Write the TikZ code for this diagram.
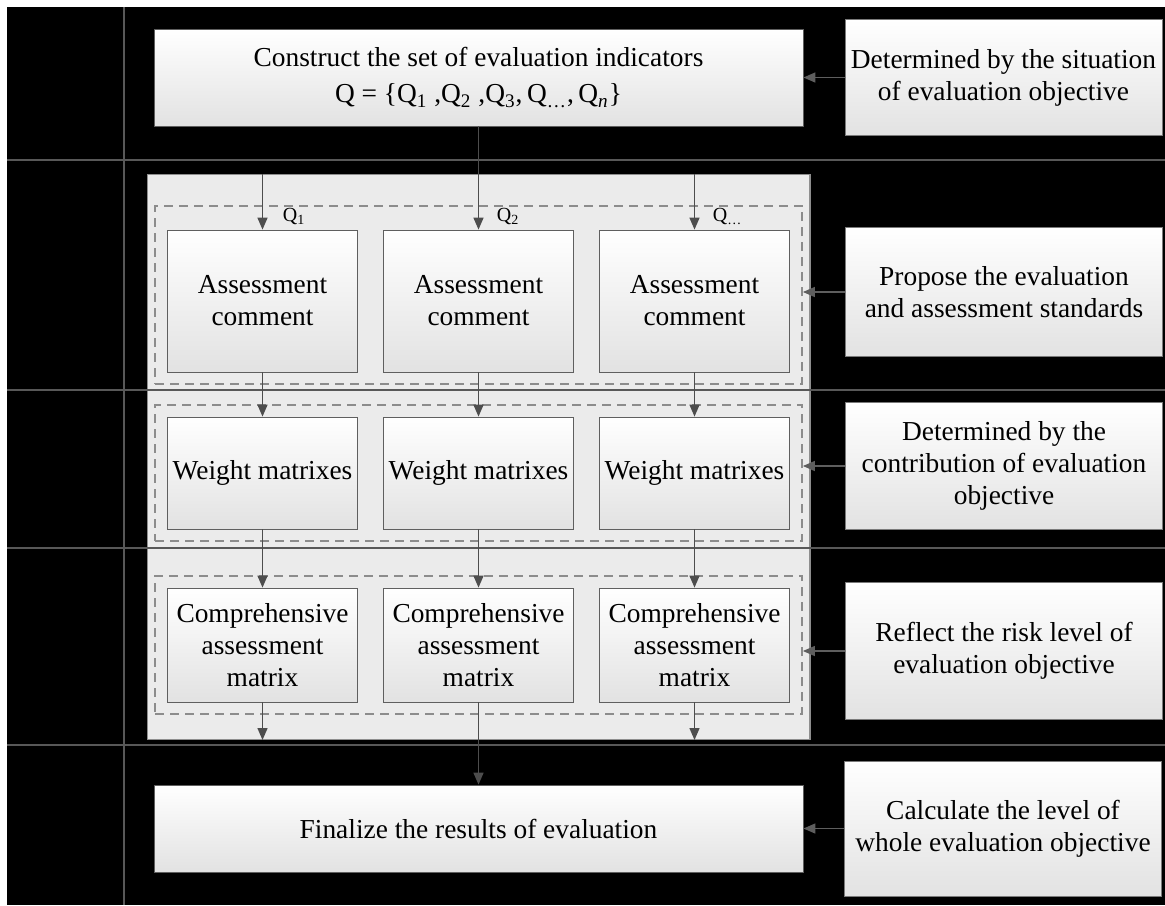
\documentclass[tikz,border=0pt]{standalone}
\usepackage{fontspec}
\setmainfont{Liberation Serif}
\usetikzlibrary{arrows.meta, fit, backgrounds}
\definecolor{boxline}{HTML}{5F5F5F}
\definecolor{sideline}{HTML}{7A7A7A}
\definecolor{boxbot}{HTML}{E2E2E2}
\definecolor{panelfill}{HTML}{EBEBEB}
\definecolor{panelline}{HTML}{8E8E8E}
\definecolor{dashgray}{HTML}{8C8C8C}
\definecolor{arrgray}{HTML}{4D4D4D}
\definecolor{sidegray}{HTML}{5E5E5E}
\definecolor{linegray}{HTML}{585858}
\newcommand{\qsub}[1]{Q\textsubscript{#1}}
\tikzstyle{topbox} = [rectangle, minimum width=324.5pt, minimum height=48.5pt, text centered, align=center, inner sep=1pt, draw=boxline, top color=white, bottom color=boxbot]
\tikzstyle{sidebox} = [rectangle, minimum width=158.5pt, minimum height=65pt, text centered, align=center, inner sep=1pt, draw=sideline, top color=white, bottom color=boxbot]
\tikzstyle{stepbox} = [rectangle, minimum width=95pt, minimum height=56pt, text centered, align=center, inner sep=1pt, draw=boxline, top color=white, bottom color=boxbot]
\tikzstyle{qlabel} = [font=\fontsize{10}{11}\selectfont, inner sep=1pt, anchor=south west]
\tikzstyle{dashgroup} = [rectangle, draw=dashgray, line width=1pt, dash pattern=on 4.5pt off 3pt, inner sep=6pt]
\tikzstyle{panelbox} = [rectangle, draw=panelline, fill=panelfill, line width=0.6pt, inner xsep=3.5pt, inner ysep=12pt]
\tikzstyle{rowline} = [line width=0.8pt, draw=linegray]
\tikzstyle{arrow} = [line width=0.7pt, draw=arrgray, ->, >={Triangle[length=6pt,width=5pt]}]
\tikzstyle{sidearrow} = [arrow, draw=sidegray]
\begin{document}
\begin{tikzpicture}[x=0.5pt, y=-0.5pt, node distance=86pt, every node/.style={font=\fontsize{13.7}{16}\selectfont}]
  \useasboundingbox (0,0) rectangle (1165,905);

  \node (top) [topbox] at (478.5,77.5) {Construct the set of evaluation indicators\\[2pt] Q = \{\qsub{1}\ ,\qsub{2}\ ,\qsub{3},\,\qsub{\ldots},\,\qsub{\textit{n}}\}};
  \node (det1) [sidebox, right of=top, xshift=176.5pt, minimum height=58pt] {Determined by the situation\\ of evaluation objective};

  \node (cm2) [stepbox, below of=top, yshift=-25.75pt, minimum height=71pt] {Assessment\\ comment};
  \node (cm1) [stepbox, left of=cm2, xshift=-22pt, minimum height=71pt] {Assessment\\ comment};
  \node (cm3) [stepbox, right of=cm2, xshift=22pt, minimum height=71pt] {Assessment\\ comment};
  \node (wm1) [stepbox, below of=cm1] {Weight matrixes};
  \node (wm2) [stepbox, below of=cm2] {Weight matrixes};
  \node (wm3) [stepbox, below of=cm3] {Weight matrixes};
  \node (cp1) [stepbox, below of=wm1, minimum height=57pt] {Comprehensive\\ assessment\\ matrix};
  \node (cp2) [stepbox, below of=wm2, minimum height=57pt] {Comprehensive\\ assessment\\ matrix};
  \node (cp3) [stepbox, below of=wm3, minimum height=57pt] {Comprehensive\\ assessment\\ matrix};
  \node (fin) [topbox, below of=cp2, yshift=-5.75pt, minimum height=43.5pt] {Finalize the results of evaluation};

  \node (std) [sidebox, right of=cm3, xshift=68.75pt, yshift=4.5pt, minimum height=64.5pt] {Propose the evaluation\\ and assessment standards};
  \node (ctb) [sidebox, right of=wm3, xshift=68.75pt, yshift=3.5pt, minimum height=63.5pt] {Determined by the\\ contribution of evaluation\\ objective};
  \node (rsk) [sidebox, right of=cp3, xshift=68.75pt, yshift=-3pt, minimum height=68.5pt] {Reflect the risk level of\\ evaluation objective};
  \node (lvl) [sidebox, right of=fin, xshift=176.25pt, minimum height=67.5pt] {Calculate the level of\\ whole evaluation objective};

  \node (q1) [qlabel] at ([xshift=9pt,yshift=1pt]cm1.north) {\qsub{1}};
  \node (q2) [qlabel] at ([xshift=8pt,yshift=1pt]cm2.north) {\qsub{2}};
  \node (q3) [qlabel] at ([xshift=8pt,yshift=1pt]cm3.north) {\qsub{\ldots}};

  % dashed groups round each row
  \coordinate (g1top) at ([yshift=6pt]cm2.north);
  \node (grp1) [dashgroup, fit=(cm1)(cm3)(g1top)] {};
  \node (grp2) [dashgroup, fit=(wm1)(wm3)] {};
  \node (grp3) [dashgroup, fit=(cp1)(cp3)] {};
  \coordinate (ptop) at ([yshift=3pt]grp1.north);

  \begin{scope}[on background layer]
    \fill[white] (0,0) rectangle (1165,905);
    \fill[black] (7,7) rectangle (1165,905);
    \node (panel) [panelbox, fit=(grp1)(grp3)(ptop)] {};
    \foreach \y in {160,390,548,745}
      \draw[rowline] (7,\y) -- (1165,\y);
    \draw[rowline] (124,7) -- (124,905);
  \end{scope}

  \draw [sidearrow] (det1) -- (top);
  \draw [arrow] (top) -- (cm2);
  \draw [arrow] (cm1 |- panel.north) -- (cm1);
  \draw [arrow] (cm3 |- panel.north) -- (cm3);
  \foreach \c in {1,2,3} {
    \draw [arrow] (cm\c) -- (wm\c);
    \draw [arrow] (wm\c) -- (cp\c);
  }
  \draw [arrow] (cp1) -- (cp1 |- panel.south);
  \draw [arrow] (cp3) -- (cp3 |- panel.south);
  \draw [arrow] (cp2) -- (fin);
  \draw [sidearrow] (std) -- (std -| grp1.east);
  \draw [sidearrow] (ctb) -- (ctb -| grp2.east);
  \draw [sidearrow] (rsk) -- (rsk -| grp3.east);
  \draw [sidearrow] (lvl) -- (fin);
\end{tikzpicture}
\end{document}
